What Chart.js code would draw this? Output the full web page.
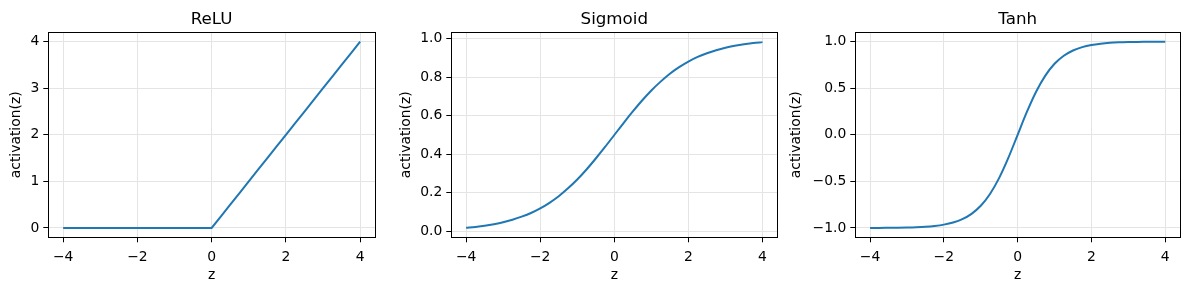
<!DOCTYPE html>
<html>
<head>
<meta charset="utf-8">
<script src="https://cdn.jsdelivr.net/npm/chart.js@4/dist/chart.umd.min.js"></script>
<style>
  html, body { margin: 0; padding: 0; background: #fff; }
  #wrap { position: relative; width: 1189px; height: 290px; overflow: hidden; }
  .cv { position: absolute; top: 0; }
</style>
</head>
<body>
<div id="wrap">
  <div class="cv" style="left:0px;width:400px;height:290px"><canvas id="c1"></canvas></div>
  <div class="cv" style="left:390px;width:400px;height:290px"><canvas id="c2"></canvas></div>
  <div class="cv" style="left:780px;width:409px;height:290px"><canvas id="c3"></canvas></div>
</div>
<script>
// ---- data ----
const zValues = [-4, -3.75, -3.5, -3.25, -3, -2.75, -2.5, -2.25, -2, -1.75, -1.5, -1.25, -1, -0.75, -0.5, -0.25,
                 0, 0.25, 0.5, 0.75, 1, 1.25, 1.5, 1.75, 2, 2.25, 2.5, 2.75, 3, 3.25, 3.5, 3.75, 4];
const reluValues = [0, 0, 0, 0, 0, 0, 0, 0, 0, 0, 0, 0, 0, 0, 0, 0,
                    0, 0.25, 0.5, 0.75, 1, 1.25, 1.5, 1.75, 2, 2.25, 2.5, 2.75, 3, 3.25, 3.5, 3.75, 4];
const sigmoidValues = [0.018, 0.023, 0.029, 0.037, 0.047, 0.060, 0.076, 0.095, 0.119, 0.148, 0.182, 0.223, 0.269, 0.321, 0.378, 0.438,
                       0.500, 0.562, 0.622, 0.679, 0.731, 0.777, 0.818, 0.852, 0.881, 0.905, 0.924, 0.940, 0.953, 0.963, 0.971, 0.977, 0.982];
const tanhValues = [-0.999, -0.999, -0.998, -0.997, -0.995, -0.992, -0.987, -0.978, -0.964, -0.941, -0.905, -0.848, -0.762, -0.635, -0.462, -0.245,
                    0, 0.245, 0.462, 0.635, 0.762, 0.848, 0.905, 0.941, 0.964, 0.978, 0.987, 0.992, 0.995, 0.997, 0.998, 0.999, 0.999];
const xTicks = [-4, -2, 0, 2, 4];
const reluTicks = [0, 1, 2, 3, 4];
const sigmoidTicks = [0.0, 0.2, 0.4, 0.6, 0.8, 1.0];
const tanhTicks = [-1.0, -0.5, 0.0, 0.5, 1.0];
const titles = ['ReLU', 'Sigmoid', 'Tanh'];
const xLabel = 'z';
const yLabel = 'activation(z)';

// ---- rendering ----
const FONT = "'DejaVu Sans', sans-serif";
const minus = s => s.replace('-', '\u2212');

const boxPlugin = {
  id: 'box',
  afterDraw(chart) {
    const a = chart.chartArea, ctx = chart.ctx;
    ctx.save();
    ctx.strokeStyle = '#000';
    ctx.lineWidth = 1;
    ctx.strokeRect(Math.round(a.left) + 0.5, Math.round(a.top) + 0.5,
                   Math.round(a.right) - Math.round(a.left), Math.round(a.bottom) - Math.round(a.top));
    ctx.restore();
  }
};

function makeChart(id, title, values, yTicks, yMin, yMax, decimals, yWidth, padRight, smooth) {
  const pts = zValues.map((z, i) => ({ x: z, y: values[i] }));
  const ds = { data: pts, borderColor: '#1f77b4', borderWidth: 2, pointRadius: 0, fill: false, tension: 0 };
  if (smooth) ds.cubicInterpolationMode = 'monotone';
  return new Chart(document.getElementById(id), {
    type: 'line',
    data: { datasets: [ds] },
    options: {
      responsive: true, maintainAspectRatio: false, animation: false,
      layout: { padding: { left: 0, right: padRight, top: 0, bottom: 0 } },
      plugins: {
        legend: { display: false }, tooltip: { enabled: false },
        title: { display: true, text: title, fullSize: false, color: '#000',
                 font: { family: FONT, size: 16.7, weight: 'normal', lineHeight: 1 },
                 padding: { top: 11.5, bottom: 4.1 } }
      },
      scales: {
        x: {
          type: 'linear', min: -4.4, max: 4.4,
          afterBuildTicks: s => { s.ticks = xTicks.map(v => ({ value: v })); },
          afterFit: s => { s.height = 52.7; },
          grid: { color: '#e4e4e4', lineWidth: 1, tickColor: '#000', tickLength: 5, drawTicks: true },
          border: { display: true, color: '#000', width: 1 },
          ticks: { color: '#000', font: { family: FONT, size: 13.9 }, padding: 7, maxRotation: 0,
                   callback: v => minus(String(v)) },
          title: { display: true, text: xLabel, color: '#000', font: { family: FONT, size: 13.9 },
                   padding: { top: 4, bottom: 6 } }
        },
        y: {
          type: 'linear', min: yMin, max: yMax,
          afterBuildTicks: s => { s.ticks = yTicks.map(v => ({ value: v })); },
          afterFit: s => { s.width = yWidth; },
          grid: { color: '#e4e4e4', lineWidth: 1, tickColor: '#000', tickLength: 5, drawTicks: true },
          border: { display: true, color: '#000', width: 1 },
          ticks: { color: '#000', font: { family: FONT, size: 13.9 }, padding: 4,
                   callback: v => minus(Number(v).toFixed(decimals)) },
          title: { display: true, text: yLabel, color: '#000', font: { family: FONT, size: 13.9 },
                   padding: { top: 8, bottom: 4 } }
        }
      }
    },
    plugins: [boxPlugin]
  });
}

makeChart('c1', titles[0], reluValues, reluTicks, -0.2, 4.2, 0, 48.3, 25, false);
makeChart('c2', titles[1], sigmoidValues, sigmoidTicks, -0.031, 1.033, 1, 61.3, 12.7, true);
makeChart('c3', titles[2], tanhValues, tanhTicks, -1.1, 1.1, 1, 75.3, 9, true);
</script>
</body>
</html>
